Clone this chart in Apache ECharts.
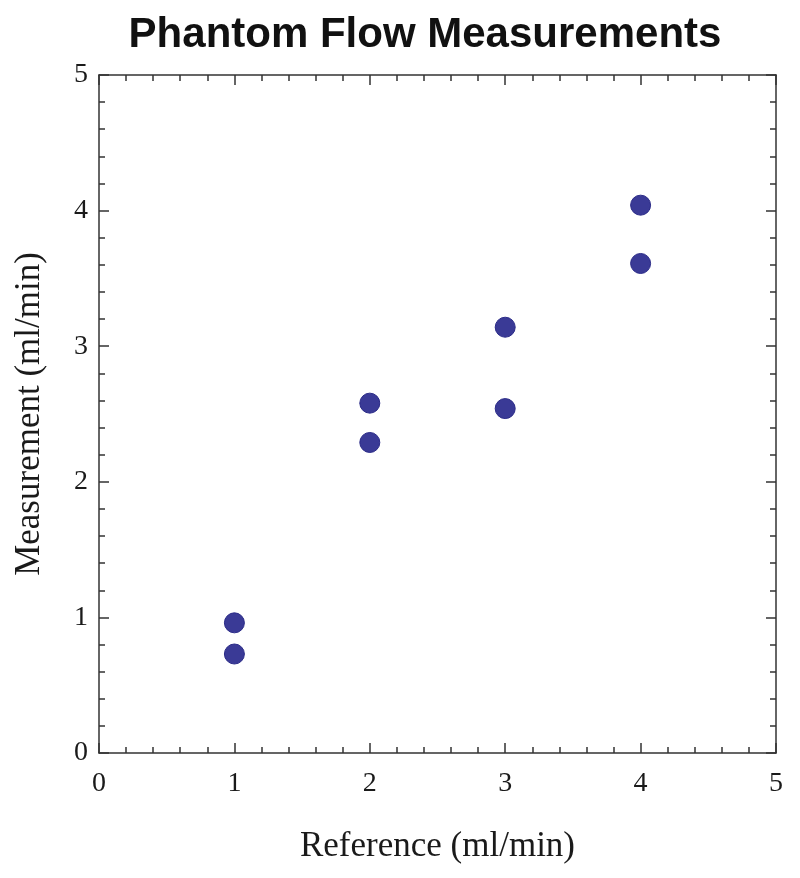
<!DOCTYPE html>
<html>
<head>
<meta charset="utf-8">
<script src="https://cdn.jsdelivr.net/npm/echarts@6/dist/echarts.min.js"></script>
<style>
  html, body { margin: 0; padding: 0; background: #fff; }
  #chart { width: 800px; height: 878px; }
</style>
</head>
<body>
<div id="chart"></div>
<script>
// reference flow (ml/min) and measured flow for each phantom run
const referenceFlow = [1, 1, 2, 2, 3, 3, 4, 4];
const measuredFlow = [0.96, 0.73, 2.58, 2.29, 3.14, 2.54, 4.04, 3.61];
const axisMin = 0;
const axisMax = 5;

const points = referenceFlow.map((x, i) => [x, measuredFlow[i]]);

const serif = "Liberation Serif";
const tickFont = { fontFamily: serif, fontSize: 28, color: "#1a1a1a" };
const nameFont = { fontFamily: serif, fontSize: 35, color: "#1a1a1a" };
const lineStyle = { color: "#333", width: 1.5 };

const baseAxis = {
  type: "value",
  min: axisMin,
  max: axisMax,
  interval: 1,
  axisLine: { show: true, onZero: false, lineStyle },
  axisTick: { show: true, inside: true, length: 10, lineStyle: { color: "#333", width: 1.5 } },
  minorTick: { show: true, splitNumber: 5, length: 6, lineStyle: { color: "#333", width: 1.5 } },
  splitLine: { show: false },
};

const chart = echarts.init(document.getElementById("chart"));
chart.setOption({
  animation: false,
  backgroundColor: "#fff",
  title: {
    text: "Phantom Flow Measurements",
    left: 420,
    top: 9,
    textAlign: "center",
    textStyle: { fontFamily: "Liberation Sans", fontWeight: "bold", fontSize: 42, color: "#111" },
  },
  grid: { left: 99, top: 75, right: 24, bottom: 125 },
  xAxis: [
    {
      ...baseAxis,
      position: "bottom",
      name: "Reference (ml/min)",
      nameLocation: "middle",
      nameGap: 76,
      nameTextStyle: nameFont,
      axisLabel: { ...tickFont, margin: 17 },
    },
    { ...baseAxis, position: "top", axisLabel: { show: false } },
  ],
  yAxis: [
    {
      ...baseAxis,
      position: "left",
      name: "Measurement (ml/min)",
      nameLocation: "middle",
      nameGap: 52,
      nameTextStyle: nameFont,
      axisLabel: { ...tickFont, margin: 11 },
    },
    { ...baseAxis, position: "right", axisLabel: { show: false } },
  ],
  series: [
    {
      type: "scatter",
      data: points,
      symbolSize: 20,
      itemStyle: { color: "#3a3a96", borderColor: "#2b2b88", borderWidth: 1, opacity: 1 },
    },
  ],
});
</script>
</body>
</html>
